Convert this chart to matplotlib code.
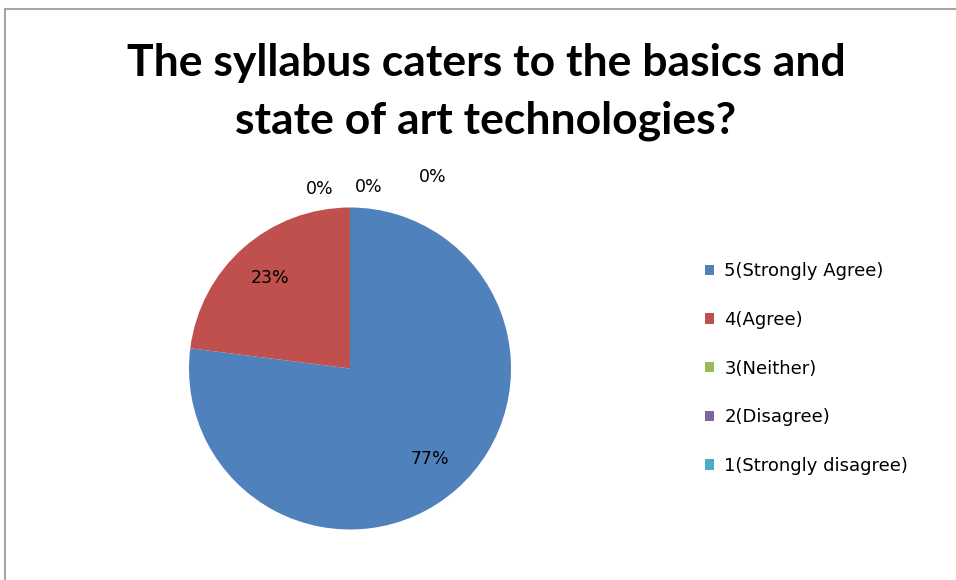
import matplotlib
matplotlib.use("Agg")
import matplotlib.pyplot as plt
from matplotlib.patches import Rectangle

plt.rcParams['font.family'] = ['DejaVu Sans']

title = "The syllabus caters to the basics and\nstate of art technologies?"
categories = ["5(Strongly Agree)", "4(Agree)", "3(Neither)", "2(Disagree)", "1(Strongly disagree)"]
values = [77, 23, 0, 0, 0]
colors = ["#4F81BD", "#C0504D", "#9BBB59", "#8064A2", "#4BACC6"]
# label offsets for the empty slices (axes data units, radius = 1)
zero_label_pos = [(-0.19, 1.115), (0.118, 1.13), (0.516, 1.19)]

W, H = 956, 580
fig = plt.figure(figsize=(W / 100, H / 100), dpi=100)

# chart area frame
fig.patches.append(Rectangle((5 / W, -0.1), 1.2, 1 - 9 / H + 0.1, transform=fig.transFigure,
                             fill=False, edgecolor="#A6A6A6", linewidth=1.5))

cx, cy, r = 350, 368.5, 161
ax = fig.add_axes([(cx - r) / W, (H - cy - r) / H, 2 * r / W, 2 * r / H])
wedges, texts, autotexts = ax.pie(values, colors=colors, startangle=90, counterclock=False,
                                  autopct="%1.0f%%", pctdistance=0.75,
                                  wedgeprops=dict(linewidth=0),
                                  textprops=dict(fontsize=12.5, color="black"))
ax.set_xlim(-1, 1)
ax.set_ylim(-1, 1)
ax.set_aspect("equal")

k = 0
for v, t in zip(values, autotexts):
    t.set_clip_on(False)
    if v == 0:
        t.set_position(zero_label_pos[k])
        k += 1

fig.text(486 / W, 1 - 92 / H, title, ha="center", va="center", fontsize=32,
         fontweight="bold", family=["Lato", "DejaVu Sans"], linespacing=1.55)

fig.legend(wedges, categories, loc="upper left", bbox_to_anchor=(689 / W, 1 - 246 / H),
           frameon=False, fontsize=13, handlelength=0.5, handleheight=0.5,
           handletextpad=0.55, labelspacing=1.7)

fig.savefig("out.png", dpi=100)
